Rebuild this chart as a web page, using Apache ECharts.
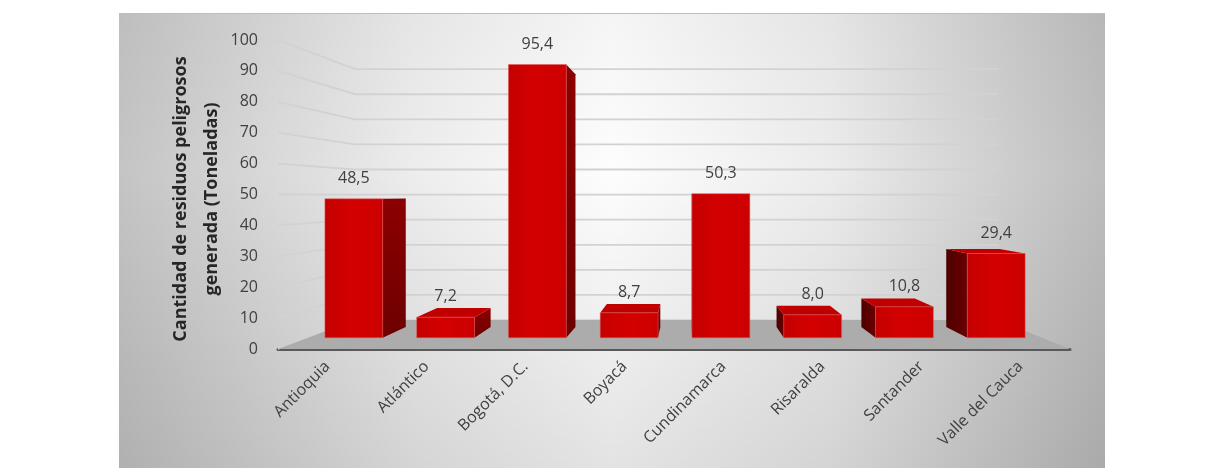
<!DOCTYPE html>
<html><head><meta charset="utf-8">
<script src="https://cdn.jsdelivr.net/npm/echarts@6/dist/echarts.min.js"></script>
<style>html,body{margin:0;padding:0;background:#fff;}#c{width:1208px;height:468px;}</style>
</head><body><div id="c"></div>
<script>
// ---- data ----
const categories = ['Antioquia', 'Atlántico', 'Bogotá, D.C.', 'Boyacá', 'Cundinamarca', 'Risaralda', 'Santander', 'Valle del Cauca'];
const values = [48.5, 7.2, 95.4, 8.7, 50.3, 8.0, 10.8, 29.4];
const yTicks = [0, 10, 20, 30, 40, 50, 60, 70, 80, 90, 100];
const yTitle = 'Cantidad de residuos peligrosos\ngenerada (Toneladas)';

// ---- perspective layout ----
const VX = 688, VY = 195;
const S_WALL = 0.812, S_FRONT = 0.927, S_BACK = 0.857;
const BAR_RATIO = 0.63;
const FONT = '"Open Sans", "Noto Sans", sans-serif';
function proj(x, y, s) { return [VX + (x - VX) * s, VY + (y - VY) * s]; }
function fmt(v) { return v.toFixed(1).replace('.', ','); }

const chart = echarts.init(document.getElementById('c'), null, { renderer: 'canvas' });

function renderGrid(params, api) {
  const cs = params.coordSys;
  const v = api.value(0);
  const y = api.coord([0, v])[1];
  const a = [cs.x, y];
  const b = proj(cs.x, y, S_WALL);
  const c = [proj(cs.x + cs.width, y, S_WALL)[0], b[1]];
  return { type: 'polyline', shape: { points: [a, b, c] },
    style: { stroke: '#d2d2d2', lineWidth: 1.8, fill: null }, silent: true };
}

function renderFloor(params, api) {
  const cs = params.coordSys;
  const y0 = api.coord([0, 0])[1];
  const fl = [cs.x, y0], fr = [cs.x + cs.width, y0];
  const bl = proj(fl[0], fl[1], S_WALL), br = proj(fr[0], fr[1], S_WALL);
  return { type: 'polygon', shape: { points: [fl, fr, br, bl] },
    style: { fill: '#acacac' }, silent: true };
}

function renderBar(params, api) {
  const i = api.value(0), v = api.value(1);
  const top = api.coord([i, v]);
  const base = api.coord([i, 0]);
  const hw = api.size([1, 0])[0] * BAR_RATIO / 2;
  const xl = top[0] - hw, xr = top[0] + hw;
  const F = (x, y) => proj(x, y, S_FRONT);
  const B = (x, y) => proj(x, y, S_BACK);
  const fTL = F(xl, top[1]), fTR = F(xr, top[1]), fBL = F(xl, base[1]), fBR = F(xr, base[1]);
  const bTL = B(xl, top[1]), bTR = B(xr, top[1]), bBL = B(xl, base[1]), bBR = B(xr, base[1]);
  const ch = [];
  if (xr < VX) {
    ch.push({ type: 'polygon', shape: { points: [fTR, bTR, bBR, fBR] },
      style: { fill: new echarts.graphic.LinearGradient(0, 0, 0, 1, [{ offset: 0, color: '#8c0000' }, { offset: 1, color: '#6e0000' }]) } });
  }
  if (xl > VX) {
    ch.push({ type: 'polygon', shape: { points: [fTL, bTL, bBL, fBL] },
      style: { fill: new echarts.graphic.LinearGradient(0, 0, 1, 0, [{ offset: 0, color: '#4e0000' }, { offset: 1, color: '#6a0000' }]) } });
  }
  if (fTL[1] > bTL[1] + 0.5) {
    ch.push({ type: 'polygon', shape: { points: [fTL, fTR, bTR, bTL] },
      style: { fill: '#c00000' } });
  }
  ch.push({ type: 'rect', shape: { x: fTL[0], y: fTL[1], width: fTR[0] - fTL[0], height: fBL[1] - fTL[1] },
    style: { fill: new echarts.graphic.LinearGradient(0, 0, 1, 0, [
      { offset: 0, color: '#c40000' }, { offset: 0.45, color: '#d40000' }, { offset: 1, color: '#cc0000' }]),
      stroke: 'rgba(230,90,90,0.6)', lineWidth: 0.8 } });
  ch.push({ type: 'text', style: { text: fmt(v), x: (fTL[0] + fTR[0]) / 2, y: fTL[1] - 20.5,
    align: 'center', verticalAlign: 'middle', textAlign: 'center', textVerticalAlign: 'middle',
    font: '16px ' + FONT, fill: '#404040' } });
  return { type: 'group', children: ch };
}

const option = {
  backgroundColor: '#ffffff',
  animation: false,
  graphic: [
    { type: 'rect', z: -100, silent: true, shape: { x: 119, y: 13, width: 986, height: 455 },
      style: { fill: new echarts.graphic.LinearGradient(0, 0, 1, 0, [
        { offset: 0, color: '#c4c4c4' }, { offset: 0.3, color: '#ededed' }, { offset: 0.5, color: '#fdfdfd' },
        { offset: 0.72, color: '#ececec' }, { offset: 1, color: '#bdbdbd' }]) } },
    { type: 'rect', z: -99, silent: true, shape: { x: 119, y: 13, width: 986, height: 455 },
      style: { fill: new echarts.graphic.LinearGradient(0, 0, 0, 1, [
        { offset: 0, color: 'rgba(0,0,0,0.03)' }, { offset: 0.35, color: 'rgba(0,0,0,0)' }, { offset: 1, color: 'rgba(0,0,0,0.1)' }]) } },
    { type: 'line', z: -98, silent: true, shape: { x1: 119, y1: 13.5, x2: 1105, y2: 13.5 },
      style: { stroke: '#bdbdbd', lineWidth: 1 } },
    { type: 'text', silent: true, x: 196, y: 199, rotation: Math.PI / 2,
      style: { text: yTitle, align: 'center', verticalAlign: 'middle', textAlign: 'center', textVerticalAlign: 'middle',
        font: 'bold 18px ' + FONT, fill: '#262626', lineHeight: 31 } }
  ],
  grid: [{ left: 278, right: 138, top: 40, bottom: 119 }],
  xAxis: [{ type: 'category', data: categories,
    axisLine: { show: true, lineStyle: { color: '#595959', width: 3 } },
    axisTick: { show: false },
    axisLabel: { rotate: 45, margin: 15, color: '#404040', fontSize: 16, fontFamily: FONT, interval: 0 },
    splitLine: { show: false } }],
  yAxis: [{ type: 'value', min: 0, max: 100, interval: 10,
    axisLine: { show: false }, axisTick: { show: false }, splitLine: { show: false },
    axisLabel: { margin: 20, color: '#404040', fontSize: 16, fontFamily: FONT } }],
  series: [
    { type: 'custom', z: 1, data: yTicks.map(v => [v]),
      encode: { y: 0 }, renderItem: renderGrid, silent: true, clip: false },
    { type: 'custom', z: 2, data: [[0]],
      renderItem: renderFloor, silent: true, clip: false },
    { type: 'custom', z: 5,
      data: values.map((v, i) => [i, v]), encode: { x: 0, y: 1 },
      renderItem: renderBar, clip: false }
  ]
};
chart.setOption(option);
</script>
</body></html>
